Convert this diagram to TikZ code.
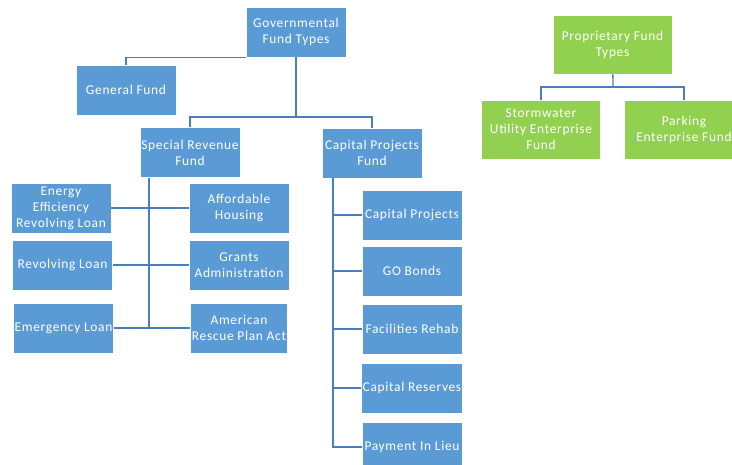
\documentclass[tikz,border=0pt]{standalone}
\usepackage{fontspec}
\setmainfont{Carlito}[LetterSpace=5]
\usetikzlibrary{calc}
\definecolor{fundblue}{HTML}{5B9BD5}
\definecolor{fundgreen}{HTML}{92D050}
\definecolor{linkblue}{HTML}{4A7EBB}
\tikzstyle{fund}=[rectangle, fill=fundblue, draw=white, line width=0.6bp, text=white, minimum width=100bp, minimum height=50bp, align=center, inner sep=1bp, font=\fontsize{13.5}{16}\selectfont]
\tikzstyle{propfund}=[fund, fill=fundgreen, minimum width=119bp, minimum height=59bp]
\tikzstyle{link}=[draw=linkblue, line width=1.3bp]

\begin{document}
\begin{tikzpicture}[x=1bp, y=-1bp]
				\clip(0,0)rectangle(732,465);
				\node[fund](gov)at(296,32){Governmental\\Fund Types};
				\node[fund](gen)at(126,90){General Fund};
				\node[fund](spec)at(190,152.5){Special Revenue\\Fund};
				\node[fund](cap)at(372,153){Capital Projects\\Fund};
				\node[fund](eel)at(61,208){Energy\\Efficiency\\Revolving Loan};
				\node[fund](aff)at(239,208){Affordable\\Housing};
				\node[fund](rl)at(62.5,265){Revolving Loan};
				\node[fund](grant)at(239,265){Grants\\Administration};
				\node[fund](eml)at(63.5,328){Emergency Loan};
				\node[fund, minimum width=97bp](arpa)at(239,328){American\\Rescue Plan Act};
				\node[fund](cp)at(412,215){Capital Projects};
				\node[fund](go)at(412,271){GO Bonds};
				\node[fund](fr)at(412,329){Facilities Rehab};
				\node[fund](cr)at(412,388){Capital Reserves};
				\node[fund](pil)at(412,447){Payment In Lieu};
				\node[propfund](prop)at(612.5,44.5){Proprietary Fund\\Types};
				\node[propfund](storm)at(541,129.5){Stormwater\\Utility Enterprise\\Fund};
				\node[propfund](park)at(684,129.5){Parking\\Enterprise Fund};
				\coordinate(g1)at(296,117);
				\coordinate(s2)at(149,328);
				\coordinate(c2)at(333,447);
				\coordinate(p1)at(613,87);
				\draw[link](gov.south west)-|(gen.north);
				\draw[link](gov)--(g1);
				\draw[link](spec.north)|-(g1)-|(cap.north);
				\draw[link](spec.south-|s2)--(s2);
				\draw[link](eel.east)--(aff.west);
				\draw[link](rl.east)--(grant.west);
				\draw[link](eml.east)--(arpa.west);
				\draw[link](cap.south-|c2)--(c2)--(pil.west);
				\foreach \b in {cp,go,fr,cr}
					\draw[link](\b.west-|c2)--(\b.west);
				\draw[link](prop)--(p1);
				\draw[link](storm.north)|-(p1)-|(park.north);
			\end{tikzpicture}
\end{document}
